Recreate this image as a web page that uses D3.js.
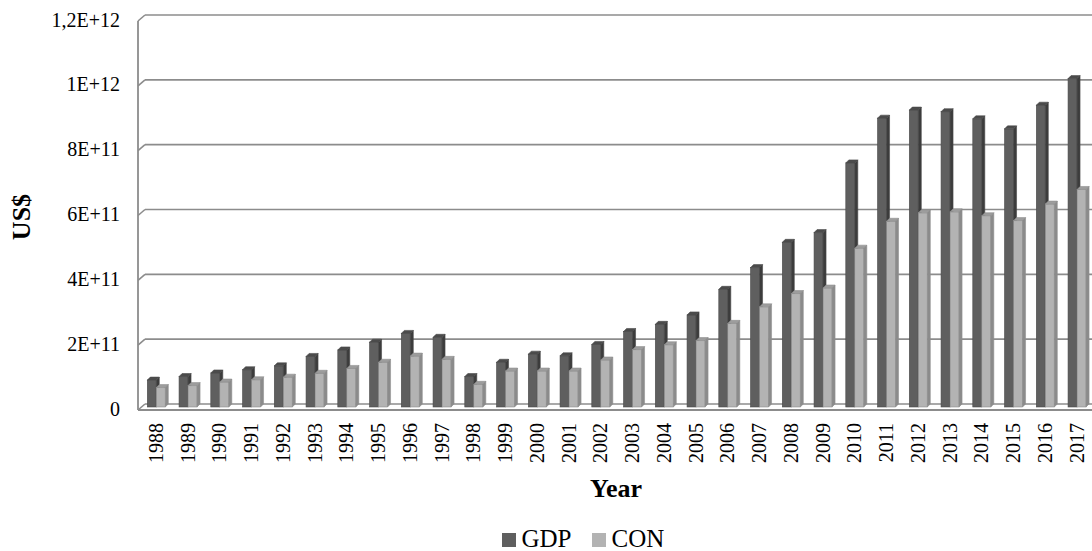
<!DOCTYPE html>
<html>
<head>
<meta charset="utf-8">
<script src="https://cdn.jsdelivr.net/npm/d3@7"></script>
<style>
  html, body { margin: 0; padding: 0; background: #fff; }
  svg { display: block; font-family: "Liberation Serif", "Times New Roman", serif; }
</style>
</head>
<body>
<svg id="chart" width="1092" height="551"></svg>
<script>
// ---- data ----
const years = ["1988","1989","1990","1991","1992","1993","1994","1995","1996","1997",
               "1998","1999","2000","2001","2002","2003","2004","2005","2006","2007",
               "2008","2009","2010","2011","2012","2013","2014","2015","2016","2017"];
const gdp = [8.3e10, 9.4e10, 1.05e11, 1.15e11, 1.27e11, 1.56e11, 1.76e11, 2.0e11, 2.27e11, 2.15e11,
             9.4e10, 1.38e11, 1.63e11, 1.58e11, 1.93e11, 2.33e11, 2.55e11, 2.84e11, 3.63e11, 4.3e11,
             5.08e11, 5.38e11, 7.53e11, 8.91e11, 9.16e11, 9.11e11, 8.89e11, 8.58e11, 9.31e11, 1.013e12];
const con = [6.0e10, 6.6e10, 7.7e10, 8.4e10, 9.2e10, 1.04e11, 1.19e11, 1.38e11, 1.57e11, 1.47e11,
             7.0e10, 1.11e11, 1.11e11, 1.11e11, 1.45e11, 1.77e11, 1.92e11, 2.05e11, 2.58e11, 3.09e11,
             3.5e11, 3.67e11, 4.9e11, 5.73e11, 5.99e11, 6.02e11, 5.9e11, 5.75e11, 6.26e11, 6.71e11];
const seriesNames = ["GDP", "CON"];
const yTicks = [0, 2e11, 4e11, 6e11, 8e11, 1e12, 1.2e12];
const yTickLabels = ["0", "2E+11", "4E+11", "6E+11", "8E+11", "1E+12", "1,2E+12"];

// ---- style ----
const colors = {
  GDP: { front: "#5f5f5f", top: "#4b4b4b", side: "#3c3c3c", stroke: "#4a4a4a" },
  CON: { front: "#b3b3b3", top: "#9d9d9d", side: "#8b8b8b", stroke: "#8e8e8e" }
};
const gridColor = "#8c8c8c";

const svg = d3.select("#chart");
const W = 1092;

// 3D geometry
const wallDX = 7, wallDY = 6;      // left wall / floor depth offset
const barDX = 3, barDY = 3;        // bar depth offset
const backLeft = 145;              // back wall left x
const frontLeft = backLeft - wallDX;

const y = d3.scaleLinear().domain([0, 1.2e12]).range([404, 15]);
const barBase = y(0) + barDY;

const x0 = d3.scaleBand().domain(years).range([139.4, 1091.9]).padding(0);
const x1 = d3.scaleBand().domain(seriesNames).range([7.9, 25.9]).padding(0);

// ---- walls & gridlines ----
const grid = svg.append("g");
yTicks.forEach(t => {
  const yy = y(t);
  grid.append("line").attr("x1", backLeft).attr("x2", W).attr("y1", yy).attr("y2", yy)
    .attr("stroke", gridColor).attr("stroke-width", 1.6);
  grid.append("line").attr("x1", frontLeft).attr("y1", yy + wallDY)
    .attr("x2", backLeft).attr("y2", yy)
    .attr("stroke", gridColor).attr("stroke-width", 1.6);
});
// vertical axis (front edge of left wall)
grid.append("line").attr("x1", frontLeft).attr("x2", frontLeft)
  .attr("y1", y(1.2e12) + wallDY).attr("y2", y(0) + wallDY)
  .attr("stroke", gridColor).attr("stroke-width", 1.8);

// ---- bars ----
const data = years.map((yr, i) => ({ year: yr, GDP: gdp[i], CON: con[i] }));
const bars = svg.append("g");
data.forEach(d => {
  seriesNames.forEach(s => {
    const c = colors[s];
    const bx = x0(d.year) + x1(s);
    const bw = x1.bandwidth();
    const top = y(d[s]) + barDY;
    const g = bars.append("g");
    // front
    g.append("rect").attr("x", bx).attr("y", top).attr("width", bw).attr("height", barBase - top)
      .attr("fill", c.front).attr("stroke", c.stroke).attr("stroke-width", 0.6);
    // top
    g.append("path").attr("d", `M${bx},${top}L${bx + barDX},${top - barDY}L${bx + bw + barDX},${top - barDY}L${bx + bw},${top}Z`)
      .attr("fill", c.top).attr("stroke", c.stroke).attr("stroke-width", 0.6);
    // side
    g.append("path").attr("d", `M${bx + bw},${top}L${bx + bw + barDX},${top - barDY}L${bx + bw + barDX},${barBase - barDY}L${bx + bw},${barBase}Z`)
      .attr("fill", c.side).attr("stroke", c.stroke).attr("stroke-width", 0.6);
  });
});

// floor front edge
svg.append("line").attr("x1", frontLeft).attr("x2", W)
  .attr("y1", y(0) + wallDY).attr("y2", y(0) + wallDY)
  .attr("stroke", gridColor).attr("stroke-width", 2.2);

// ---- y tick labels ----
svg.append("g").selectAll("text").data(yTicks).join("text")
  .attr("x", 120).attr("y", (d) => y(d) + 7)
  .attr("text-anchor", "end").attr("dominant-baseline", "middle")
  .attr("font-size", 20).attr("fill", "#000")
  .text((d, i) => yTickLabels[i]);

// ---- x tick labels ----
svg.append("g").selectAll("text").data(years).join("text")
  .attr("transform", d => `translate(${x0(d) + x0.bandwidth() / 2 + 0.5},423) rotate(-90)`)
  .attr("text-anchor", "end").attr("dominant-baseline", "central")
  .attr("font-size", 20).attr("fill", "#000")
  .text(d => d);

// ---- axis titles ----
svg.append("text").attr("x", 616).attr("y", 491)
  .attr("text-anchor", "middle").attr("dominant-baseline", "middle")
  .attr("font-size", 26).attr("font-weight", "bold").text("Year");
svg.append("text").attr("transform", "translate(24,217) rotate(-90)")
  .attr("text-anchor", "middle").attr("dominant-baseline", "middle")
  .attr("font-size", 26).attr("font-weight", "bold").text("US$");

// ---- legend ----
const legendX = [502, 592];
const lg = svg.append("g");
seriesNames.forEach((s, i) => {
  lg.append("rect").attr("x", legendX[i]).attr("y", 533).attr("width", 14).attr("height", 14)
    .attr("fill", colors[s].front);
  lg.append("text").attr("x", legendX[i] + 19.5).attr("y", 541)
    .attr("dominant-baseline", "middle").attr("font-size", 25).text(s);
});
</script>
</body>
</html>
